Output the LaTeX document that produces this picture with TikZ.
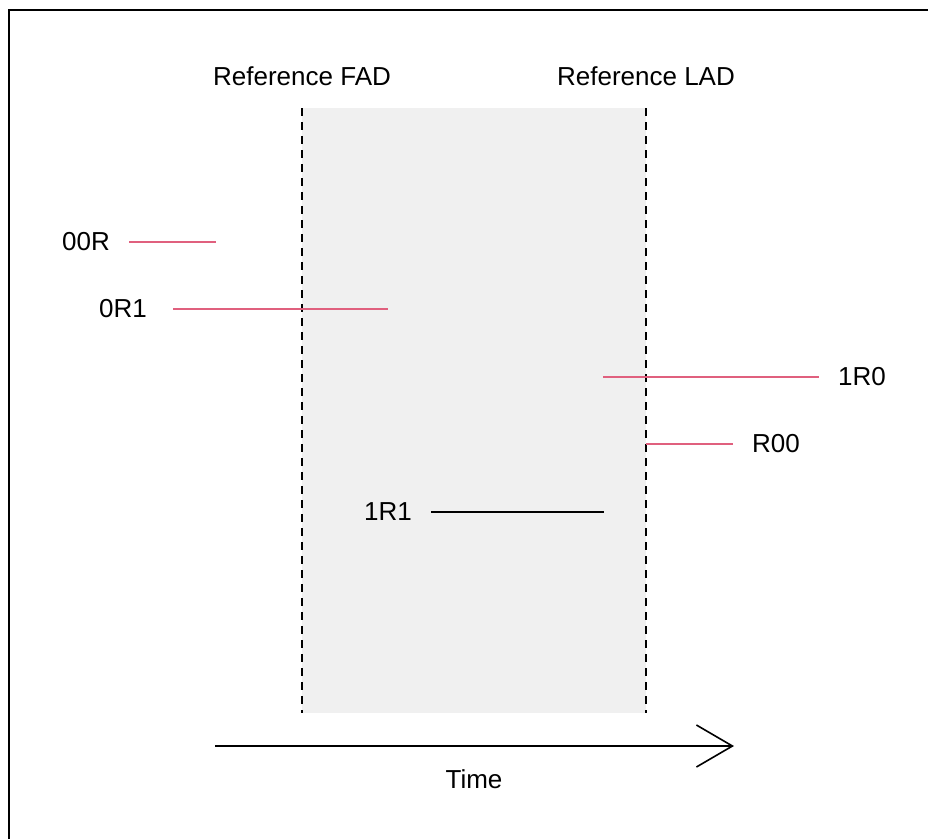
\documentclass[tikz,border=0pt]{standalone}
\usepackage{fontspec}
\setmainfont{Liberation Sans}
\usetikzlibrary{arrows.meta}
\definecolor{bandgray}{HTML}{F0F0F0}
\definecolor{rangepink}{HTML}{E0607E}
\tikzset{
  lbl/.style={inner sep=0pt, font=\fontsize{26}{30}\selectfont},
  boundary/.style={black, line width=1.6pt, dash pattern=on 8pt off 6pt},
  pinkrange/.style={rangepink, line width=1.6pt},
  blackrange/.style={black, line width=1.6pt},
}
\begin{document}
\begin{tikzpicture}[x=1pt,y=-1pt]
  \useasboundingbox (0,0) rectangle (928,839);
  % outer frame (only top and left edges fall on the page)
  \draw[line width=2pt] (9,839) -- (9,10) -- (928,10);

  % reference interval band
  \fill[bandgray] (302,108) rectangle (646,713);
  \coordinate (fadtop) at (302,108);
  \coordinate (fadbot) at (302,713);
  \coordinate (ladtop) at (646,108);
  \coordinate (ladbot) at (646,713);
  \draw[boundary] (fadtop) -- (fadbot);
  \draw[boundary] (ladtop) -- (ladbot);
  \node[lbl] (fad) at (302,76) {Reference FAD};
  \node[lbl] (lad) at (646,76) {Reference LAD};

  % taxon ranges
  \node[lbl] (t00R) at (86,242) {00R};
  \coordinate (a1) at (129,242); \coordinate (a2) at (216,242);
  \draw[pinkrange] (a1) -- (a2);

  \node[lbl] (t0R1) at (123,309) {0R1};
  \coordinate (b1) at (173,309); \coordinate (b2) at (388,309);
  \draw[pinkrange] (b1) -- (b2);

  \node[lbl] (t1R0) at (862,377) {1R0};
  \coordinate (c1) at (603,377); \coordinate (c2) at (819,377);
  \draw[pinkrange] (c1) -- (c2);

  \node[lbl] (tR00) at (776,444) {R00};
  \coordinate (d1) at (646,444); \coordinate (d2) at (733,444);
  \draw[pinkrange] (d1) -- (d2);

  \node[lbl] (t1R1) at (388,512) {1R1};
  \coordinate (e1) at (431,512); \coordinate (e2) at (604,512);
  \draw[blackrange] (e1) -- (e2);

  % time axis
  \coordinate (ts) at (215,746);
  \coordinate (te) at (734,746);
  \draw[line width=1.6pt, -{Straight Barb[length=36pt,width=42pt,line width=1.6pt]}] (ts) -- (te);
  \node[lbl] (time) at (474,779) {Time};
\end{tikzpicture}
\end{document}
